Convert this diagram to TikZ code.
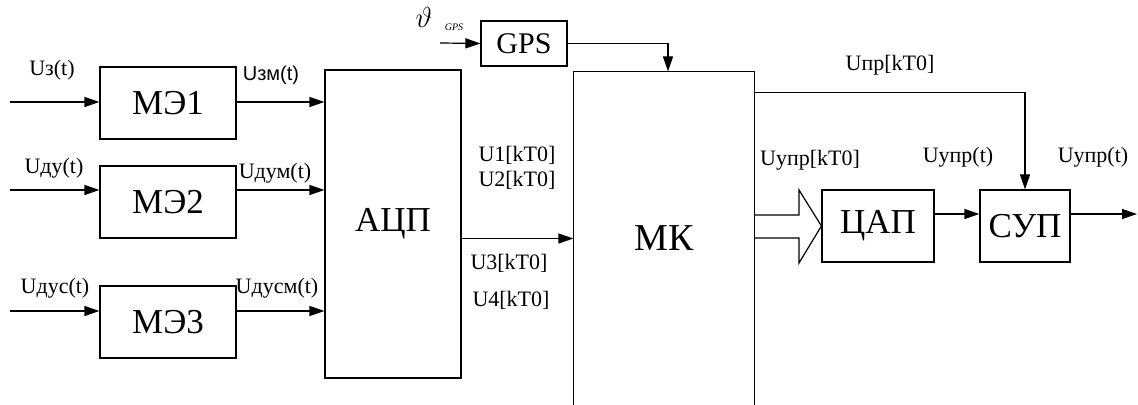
\documentclass[tikz,border=0pt]{standalone}
\usepackage{fontspec}
\setmainfont{Liberation Serif}
\setsansfont{Liberation Sans}
\usetikzlibrary{arrows.meta, positioning, calc}

\begin{document}
\begin{tikzpicture}[
    x=0.5pt, y=-0.5pt,
    line width=0.6pt,
    blk/.style={rectangle, draw, inner sep=0pt, font=\fontsize{17.5}{20}\selectfont},
    lbl/.style={inner sep=0pt, font=\fontsize{11}{13}\selectfont},
    arr/.style={-{Triangle[length=7.5pt, width=5pt]}},
]
    \useasboundingbox (0,0) rectangle (1138,405);

    % Blocks
    \node[blk, minimum width=68pt, minimum height=36pt] (me1) at (168,103) {МЭ1};
    \node[blk, minimum width=68pt, minimum height=36pt] (me2) at (168,202) {МЭ2};
    \node[blk, minimum width=68pt, minimum height=36pt] (me3) at (168,322) {МЭ3};
    \node[blk, minimum width=68pt, minimum height=154pt] (adc) at (393,224) {АЦП};
    \node[blk, font=\fontsize{15}{18}\selectfont, minimum width=43pt, minimum height=22.5pt] (gps) at (524,43.5) {GPS};
    \node[blk, draw=none, font=\fontsize{19}{22}\selectfont, minimum width=90pt, minimum height=166.5pt] (mk) at (664,238.5) {МК};
    \draw (mk.south west) |- (mk.north east) -- (mk.south east);
    \node[blk, minimum width=56pt, minimum height=36pt] (dac) at (878,226) {ЦАП};
    \node[blk, minimum width=45pt, minimum height=36pt] (sup) at (1025,226) {СУП};

    % Free ends
    \coordinate (in1) at (10,102);
    \coordinate (in2) at (10,190);
    \coordinate (in3) at (10,311);
    \coordinate (ing) at (440,43);
    \coordinate (out) at (1137,214);

    % Connections
    \draw[arr] (in1) -- (in1 -| me1.west);
    \draw[arr] (in2) -- (in2 -| me2.west);
    \draw[arr] (in3) -- (in3 -| me3.west);
    \draw[arr] (me1.east |- in1) -- (in1 -| adc.west);
    \draw[arr] (me2.east |- in2) -- (in2 -| adc.west);
    \draw[arr] (me3.east |- in3) -- (in3 -| adc.west);
    \draw[arr] (ing) -- (gps.west);
    \draw[arr] (gps.east) -| ([xshift=2pt]mk.north);
    \draw[arr] (adc.east |- mk) -- (mk.west);
    \draw[arr] ([yshift=-10.5pt]mk.north east) -| (sup.north);
    \draw (mk.east |- 0,215) -- (799,215) -- (799,190) -- (dac.west)
          -- (799,263) -- (799,238) -- (mk.east |- 0,238);
    \draw[arr] (dac.east |- out) -- (sup.west |- out);
    \draw[arr] (sup.east |- out) -- (out);

    % Labels
    \node[lbl] (lz) at (52,70) {Uз(t)};
    \node[lbl, font=\sffamily\fontsize{10}{12}\selectfont] (lzm) at (271,75) {Uзм(t)};
    \node[lbl] (ldu) at (54,168) {Uду(t)};
    \node[lbl] (ldum) at (275,173) {Uдум(t)};
    \node[lbl] (ldus) at (55,288) {Uдус(t)};
    \node[lbl] (ldusm) at (277,288) {Uдусм(t)};
    \node[lbl] (lu1) at (517,155) {U1[kT0]};
    \node[lbl] (lu2) at (517,180) {U2[kT0]};
    \node[lbl] (lu3) at (509,263) {U3[kT0]};
    \node[lbl] (lu4) at (511,300) {U4[kT0]};
    \node[lbl] (lupr) at (890,65) {Uпр[kT0]};
    \node[lbl] (luupr) at (810,160) {Uупр[kT0]};
    \node[lbl] (luupt) at (958,157) {Uупр(t)};
    \node[lbl] (lout) at (1093,157) {Uупр(t)};
    \node[lbl, font=\fontsize{14}{16}\selectfont] (theta) at (424,18) {$\vartheta$};
    \node[lbl, font=\itshape\fontsize{5}{6}\selectfont] (thetag) at (454,27) {GPS};
\end{tikzpicture}
\end{document}
